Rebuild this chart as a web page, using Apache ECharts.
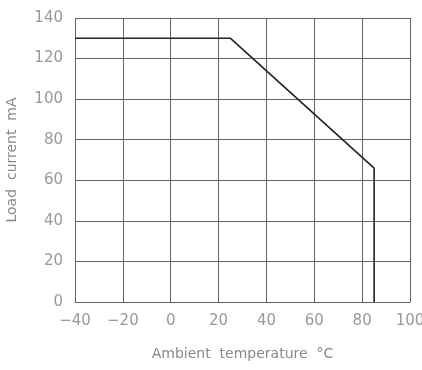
<!DOCTYPE html>
<html><head><meta charset="utf-8">
<script src="https://cdn.jsdelivr.net/npm/echarts@6/dist/echarts.min.js"></script>
<style>html,body{margin:0;padding:0;background:#fff}#c{width:422px;height:370px}</style>
</head><body><div id="c"></div>
<script>
const temps = [-40, 25, 85, 85];
const currents = [130, 130, 66, 0];
const xTicks = [-40, -20, 0, 20, 40, 60, 80, 100];
const yTicks = [0, 20, 40, 60, 80, 100, 120, 140];
const xName = 'Ambient  temperature  °C';
const yName = 'Load  current  mA';

const chart = echarts.init(document.getElementById('c'));
const font = 'DejaVu Sans';
chart.setOption({
  animation: false,
  backgroundColor: '#fff',
  grid: {left: 75, right: 12, top: 18, bottom: 68, containLabel: false, outerBoundsMode: 'none'},
  xAxis: {
    type: 'value', min: xTicks[0], max: xTicks[xTicks.length-1], interval: 20,
    name: xName, nameLocation: 'middle', nameGap: 45,
    nameTextStyle: {color: '#888', fontFamily: font, fontSize: 14},
    axisLine: {show: true, lineStyle: {color: '#666', width: 1}},
    axisTick: {show: false},
    axisLabel: {color: '#999', fontFamily: font, fontSize: 15, margin: 12,
      formatter: v => String(v).replace('-', '−')},
    splitLine: {show: true, lineStyle: {color: '#666', width: 1}}
  },
  yAxis: {
    type: 'value', min: yTicks[0], max: yTicks[yTicks.length-1], interval: 20,
    name: yName, nameLocation: 'middle', nameGap: 56,
    nameTextStyle: {color: '#888', fontFamily: font, fontSize: 14},
    axisLine: {show: true, lineStyle: {color: '#666', width: 1}},
    axisTick: {show: false},
    axisLabel: {color: '#999', fontFamily: font, fontSize: 15, margin: 12},
    splitLine: {show: true, lineStyle: {color: '#666', width: 1}}
  },
  series: [{
    type: 'line', data: temps.map((t, i) => [t, currents[i]]),
    symbol: 'none', lineStyle: {color: '#222', width: 1.6}
  }]
});
</script></body></html>
